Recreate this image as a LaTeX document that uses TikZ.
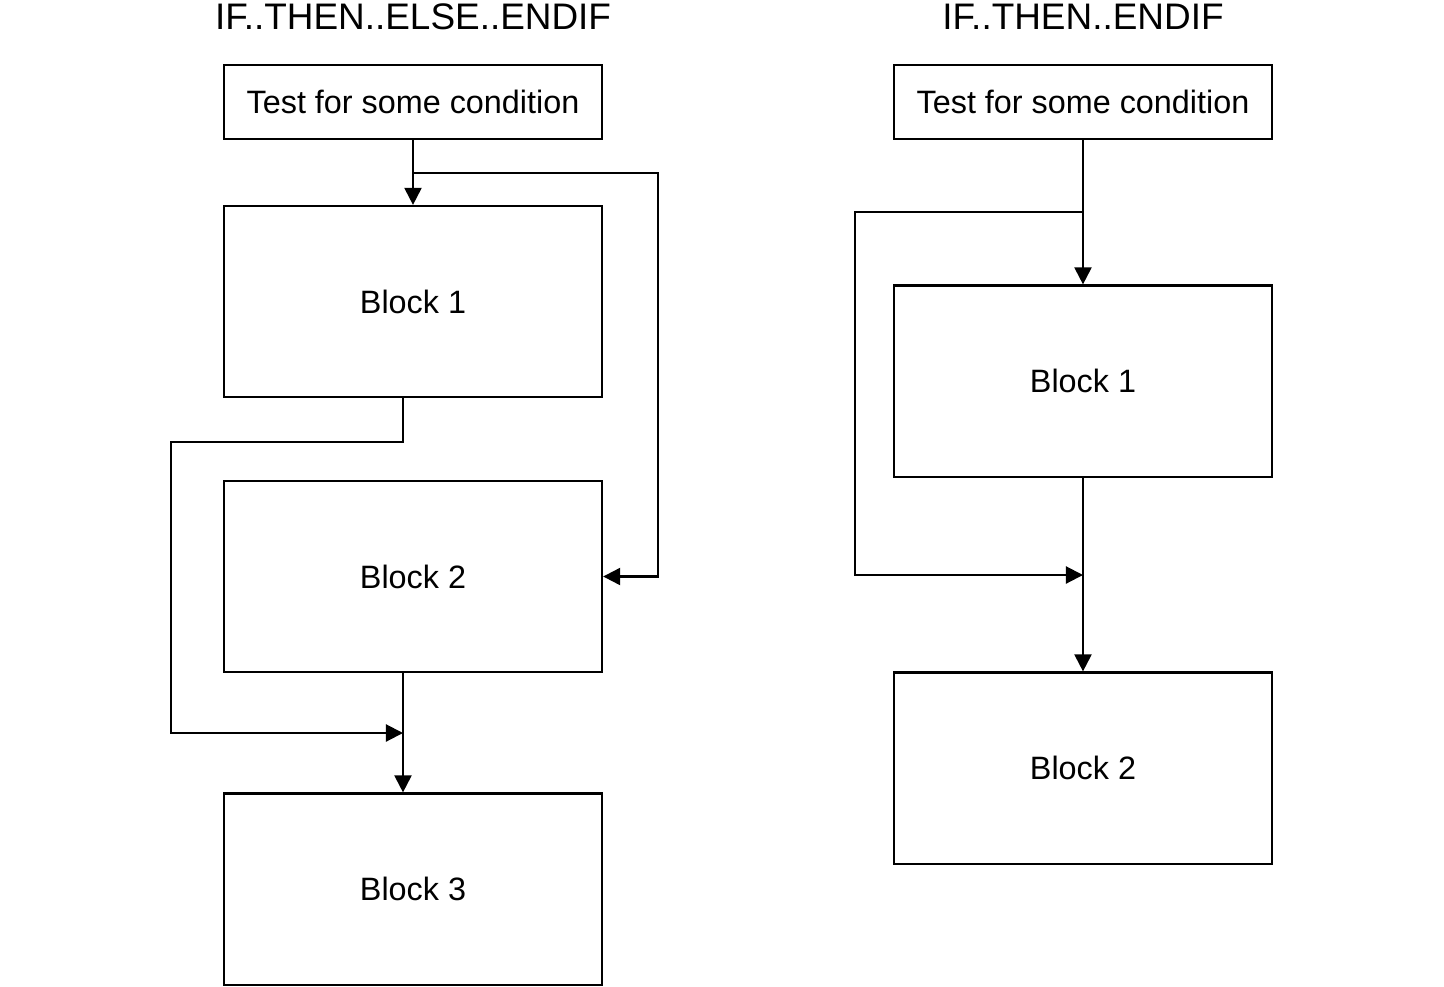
\documentclass[tikz,border=0pt]{standalone}
\usepackage{fontspec}
\setmainfont{Liberation Sans}
\usetikzlibrary{arrows.meta}

\begin{document}
\begin{tikzpicture}[x=0.01cm,y=-0.01cm,
    box/.style={draw,line width=0.6pt,minimum width=3.78cm,minimum height=1.91cm,
      inner sep=0pt,font=\fontsize{9.2}{11}\selectfont},
    testbox/.style={box,minimum height=0.74cm},
    title/.style={anchor=base,font=\fontsize{10.5}{12}\selectfont},
    flow/.style={draw,line width=0.6pt,-{Triangle[length=0.17cm,width=0.17cm]}}]
      \useasboundingbox (0,0) rectangle (1444,987);
      \def \Blocks{
        a1/413/301.5/Block 1,
        a2/413/576.5/Block 2,
        a3/413/889/Block 3,
        b1/1083/381/Block 1,
        b2/1083/768/Block 2}
      \def \Tests{
        a/413/IF..THEN..ELSE..ENDIF,
        b/1083/IF..THEN..ENDIF}
      \foreach \id / \x / \txt in \Tests{
        \node[title] (h\id) at (\x, 29) {\txt};
        \node[testbox] (t\id) at (\x, 102) {Test for some condition};
      }
      \foreach \id / \x / \y / \txt in \Blocks{
        \node[box] (\id) at (\x, \y) {\txt};
      }
      % if then else
      \coordinate (sa) at (413,173);
      \coordinate (ja) at (403,733);
      \path[flow] (ta) -- (a1);
      \path[flow] (sa) -- ++(245,0) |- (a2.east);
      \path[flow] ([xshift=-0.1cm]a1.south) -- ++(0,44) -| (171,733) -- (ja);
      \path[flow] ([xshift=-0.1cm]a2.south) -- ([xshift=-0.1cm]a3.north);
      % if then
      \coordinate (sb) at (1083,212);
      \coordinate (jb) at (1083,575);
      \path[flow] (tb) -- (b1);
      \path[flow] (sb) -- (855,212) |- (jb);
      \path[flow] (b1) -- (b2);
    \end{tikzpicture}
\end{document}
